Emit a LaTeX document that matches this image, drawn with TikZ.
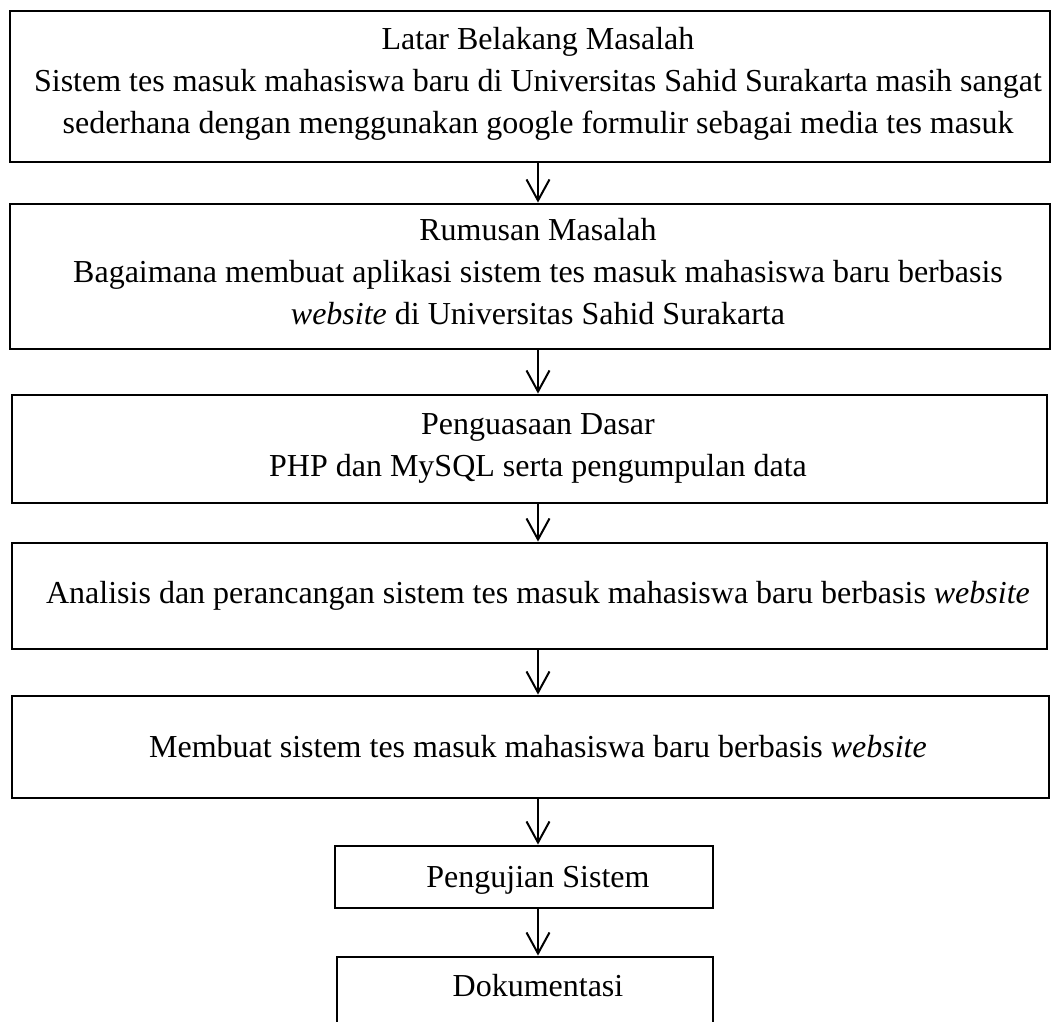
\documentclass[tikz,border=0pt]{standalone}
\usepackage{fontspec}
\setmainfont{Liberation Serif}
\usetikzlibrary{arrows.meta}
\begin{document}
\begin{tikzpicture}[x=1pt,y=-1pt,
  box/.style={draw, line width=2.9pt, inner sep=0pt, rectangle},
  txt/.style={align=center, inner sep=0pt, font=\fontsize{32}{42}\selectfont},
  arr/.style={line width=2pt, -{Straight Barb[length=21pt,width=23pt,line width=2pt]}}]
\useasboundingbox (0,0) rectangle (1056,1021);
\clip (0,0) rectangle (1056,1021);
\fill[white] (0,0) rectangle (1056,1021);

% boxes
\node[box, minimum width=1040pt, minimum height=151pt] (b1) at (530,86.5) {};
\node[box, minimum width=1040pt, minimum height=145pt] (b2) at (530,276.5) {};
\node[box, minimum width=1035pt, minimum height=108pt] (b3) at (529.5,449) {};
\node[box, minimum width=1035pt, minimum height=106pt] (b4) at (529.5,596) {};
\node[box, minimum width=1037pt, minimum height=102pt] (b5) at (530.5,747) {};
\node[box, minimum width=378pt, minimum height=62pt] (b6) at (524,877) {};
\node[box, minimum width=376pt, minimum height=103pt] (b7) at (525,1008.5) {};

% texts
\node[txt] (t1) at (538,84) {Latar Belakang Masalah\\Sistem tes masuk mahasiswa baru di Universitas Sahid Surakarta masih sangat\\sederhana dengan menggunakan google formulir sebagai media tes masuk};
\node[txt] (t2) at (538,272) {Rumusan Masalah\\Bagaimana membuat aplikasi sistem tes masuk mahasiswa baru berbasis\\\textit{website} di Universitas Sahid Surakarta};
\node[txt] (t3) at (538,448) {Penguasaan Dasar\\PHP dan MySQL serta pengumpulan data};
\node[txt] (t4) at (538,596) {Analisis dan perancangan sistem tes masuk mahasiswa baru berbasis \textit{website}};
\node[txt] (t5) at (538,747) {Membuat sistem tes masuk mahasiswa baru berbasis \textit{website}};
\node[txt] (t6) at (538,880.5) {Pengujian Sistem};
\node[txt] (t7) at (538,986) {Dokumentasi};

% connectors
\draw[arr] (b1.south -| t1) -- (b2.north -| t1);
\draw[arr] (b2.south -| t2) -- (b3.north -| t2);
\draw[arr] (b3.south -| t3) -- (b4.north -| t3);
\draw[arr] (b4.south -| t4) -- (b5.north -| t4);
\draw[arr] (b5.south -| t6) -- (b6.north -| t6);
\draw[arr] (b6.south -| t7) -- (b7.north -| t7);
\end{tikzpicture}
\end{document}
